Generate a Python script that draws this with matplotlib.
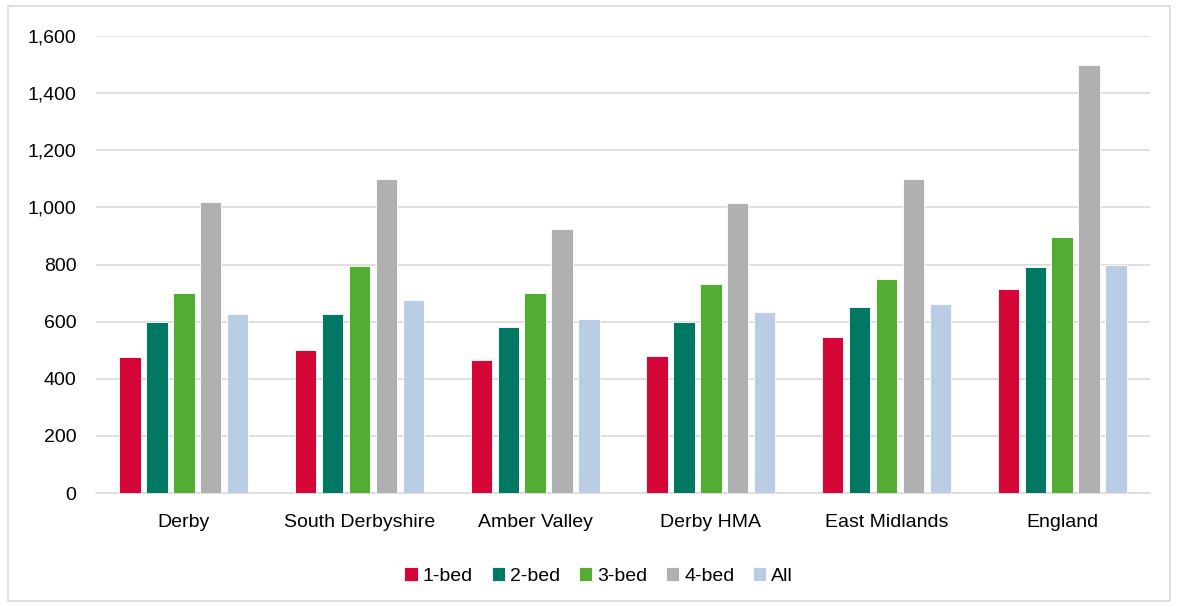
import numpy as np
import matplotlib.pyplot as plt
from matplotlib.patches import Rectangle

plt.rcParams['font.family'] = ['Liberation Sans', 'DejaVu Sans']

# Data
areas = ['Derby', 'South Derbyshire', 'Amber Valley', 'Derby HMA', 'East Midlands', 'England']
series = ['1-bed', '2-bed', '3-bed', '4-bed', 'All']
bed1 = [475, 500, 465, 478, 545, 715]
bed2 = [600, 625, 580, 600, 650, 790]
bed3 = [700, 795, 700, 730, 750, 895]
bed4 = [1020, 1100, 925, 1015, 1100, 1500]
all_beds = [625, 675, 610, 635, 660, 800]
colors = ['#D40537', '#007864', '#54AD33', '#B0B0B0', '#B9CDE4']

values = [bed1, bed2, bed3, bed4, all_beds]

fig = plt.figure(figsize=(11.78, 6.07), dpi=100)
ax = fig.add_axes([0.0815, 0.1878, 0.8947, 0.7529])

x = np.arange(len(areas))
step = 0.153
width = 0.122
for i, (vals, name, c) in enumerate(zip(values, series, colors)):
    ax.bar(x + (i - 2) * step, vals, width, color=c, label=name,
           edgecolor='white', linewidth=0.6, zorder=3)

ax.set_xlim(-0.5, len(areas) - 0.5)
ax.set_ylim(0, 1600)
ax.set_yticks(range(0, 1601, 200))
ax.set_yticklabels([f'{v:,}' for v in range(0, 1601, 200)])
ax.set_xticks(x)
ax.set_xticklabels(areas)
ax.tick_params(axis='both', length=0, labelsize=14, colors='black')
ax.tick_params(axis='x', pad=15)
ax.tick_params(axis='y', pad=14)
ax.grid(axis='y', color='#D9D9D9', linewidth=1.2, zorder=0)
for s in ['top', 'right', 'left']:
    ax.spines[s].set_visible(False)
ax.spines['bottom'].set_color('#D9D9D9')
ax.spines['bottom'].set_linewidth(1.2)

ax.legend(loc='center', bbox_to_anchor=(0.477, -0.182), ncol=5, frameon=False,
          fontsize=14, handlelength=0.7, handleheight=0.7, handletextpad=0.25,
          columnspacing=0.95)

# outer chart border
fig.patches.append(Rectangle((0.007, 0.01), 0.986, 0.98, transform=fig.transFigure,
                             fill=False, edgecolor='#D9D9D9', linewidth=1.2))

fig.savefig('out.png', dpi=100)
